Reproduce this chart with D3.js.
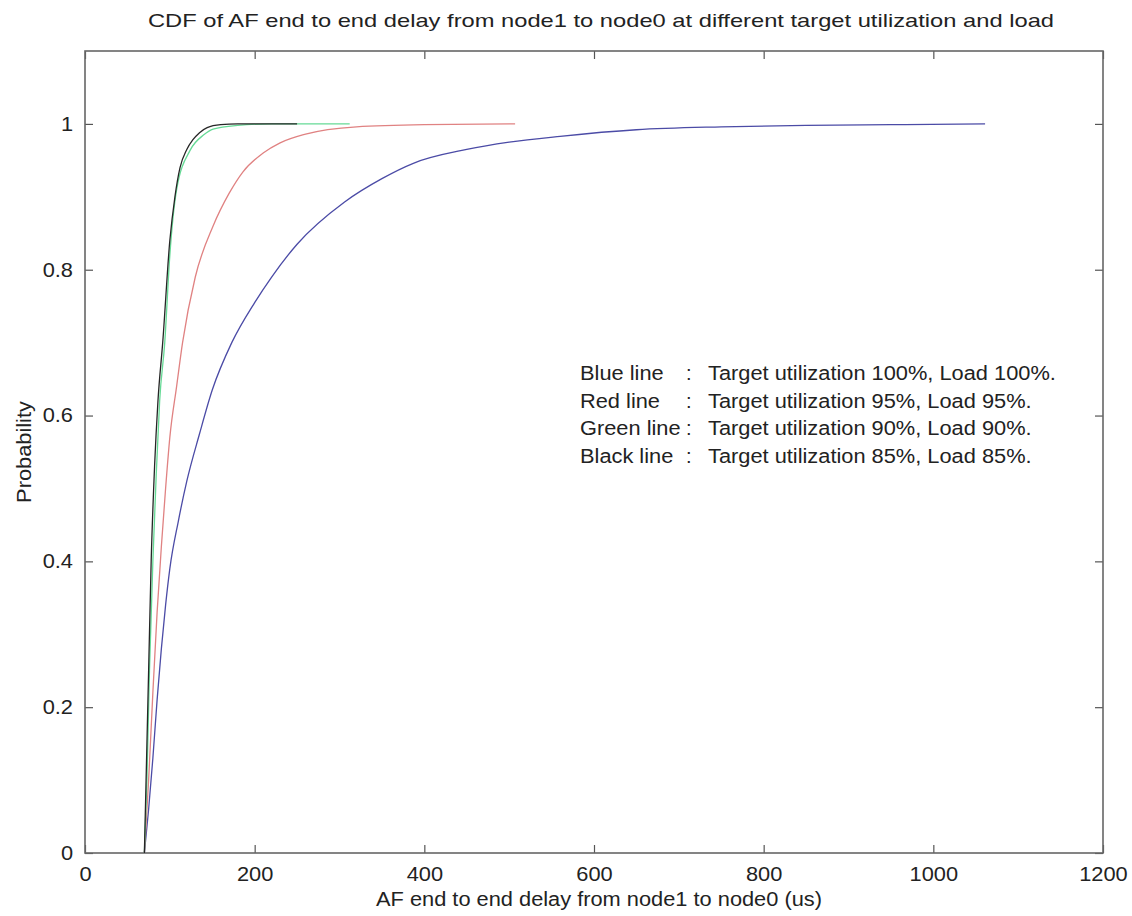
<!DOCTYPE html>
<html lang="en">
<head>
    <meta charset="UTF-8">
    <title>CDF of AF end to end delay</title>
    <script src="https://d3js.org/d3.v7.min.js"></script>
    <style>
        body { margin: 0; background: #fff; }
        text { font-family: "Liberation Sans", Arial, sans-serif; fill: #222; }
        .axis path { display: none; }
        .axis line { stroke: #555; stroke-width: 1.2; }
        .axis text { font-size: 20px; }
        .curve { fill: none; stroke-width: 1.3; }
    </style>
</head>
<body>
<svg class="chart"></svg>
<script>
    // delay values (us) and cumulative probabilities
    const blueX = [70, 75, 80, 85, 90, 95, 100, 110, 120, 135, 150, 173, 200, 220, 250, 306, 350, 387, 450, 500, 560, 650, 750, 850, 950, 1061];
    const blueY = [0, 0.06, 0.13, 0.21, 0.28, 0.34, 0.39, 0.455, 0.51, 0.575, 0.635, 0.70, 0.755, 0.79, 0.835, 0.893, 0.925, 0.946, 0.965, 0.975, 0.983, 0.992, 0.996, 0.998, 0.999, 1.0];

    const redX = [70, 75, 80, 85, 90, 95, 100, 108, 115, 130, 151, 170, 186, 210, 230, 260, 320, 400, 507];
    const redY = [0, 0.10, 0.22, 0.33, 0.42, 0.50, 0.57, 0.64, 0.70, 0.79, 0.86, 0.905, 0.934, 0.96, 0.974, 0.986, 0.996, 0.999, 1.0];

    const greenX = [70, 73, 76, 80, 84, 88, 94, 100, 108, 124, 140, 151, 180, 220, 312];
    const greenY = [0, 0.10, 0.25, 0.40, 0.52, 0.62, 0.70, 0.82, 0.91, 0.964, 0.985, 0.993, 0.998, 1.0, 1.0];

    const blackX = [70, 72, 75, 78, 82, 86, 91.6, 100, 106, 112, 120, 127, 135, 144, 160, 180, 250];
    const blackY = [0, 0.10, 0.25, 0.40, 0.53, 0.62, 0.70, 0.84, 0.90, 0.94, 0.965, 0.978, 0.988, 0.995, 0.999, 1.0, 1.0];

    const xTicks = [0, 200, 400, 600, 800, 1000, 1200];
    const yTicks = [0, 0.2, 0.4, 0.6, 0.8, 1];

    const legendNames = ["Blue line", "Red line", "Green line", "Black line"];
    const legendTexts = [
        "Target utilization 100%, Load 100%.",
        "Target utilization 95%, Load 95%.",
        "Target utilization 90%, Load 90%.",
        "Target utilization 85%, Load 85%."
    ];

    const width = 1132;
    const height = 916;
    const margin = { top: 51, right: 29, bottom: 63, left: 85 };
    const stretch = 1.09; // the source image is a bit wider than tall

    const svg = d3.select(".chart")
        .attr("width", width)
        .attr("height", height);

    const x = d3.scaleLinear()
        .domain([0, 1200])
        .range([margin.left, width - margin.right]);

    const y = d3.scaleLinear()
        .domain([0, 1.1])
        .range([height - margin.bottom, margin.top]);

    // axes with inward ticks on all four sides
    svg.append("g")
        .attr("class", "axis")
        .attr("transform", `translate(0,${y(0)})`)
        .call(d3.axisBottom(x).tickValues(xTicks).tickSizeInner(-8).tickSizeOuter(0).tickPadding(10).tickFormat(d3.format("d")))
        .selectAll("text").attr("dy", "0.9em");

    svg.append("g")
        .attr("class", "axis")
        .attr("transform", `translate(0,${y(1.1)})`)
        .call(d3.axisTop(x).tickValues(xTicks).tickSizeInner(-8).tickSizeOuter(0).tickFormat(""));

    svg.append("g")
        .attr("class", "axis")
        .attr("transform", `translate(${x(0)},0)`)
        .call(d3.axisLeft(y).tickValues(yTicks).tickSizeInner(-8).tickSizeOuter(0).tickPadding(12).tickFormat(d3.format("")));

    svg.append("g")
        .attr("class", "axis")
        .attr("transform", `translate(${x(1200)},0)`)
        .call(d3.axisRight(y).tickValues(yTicks).tickSizeInner(-8).tickSizeOuter(0).tickFormat(""));

    svg.append("rect")
        .attr("x", x(0))
        .attr("y", y(1.1))
        .attr("width", x(1200) - x(0))
        .attr("height", y(0) - y(1.1))
        .attr("fill", "none")
        .attr("stroke", "#666")
        .attr("stroke-width", 1.6);

    const line = d3.line()
        .x(d => x(d[0]))
        .y(d => y(d[1]))
        .curve(d3.curveMonotoneX);

    const series = [
        { xs: blueX, ys: blueY, color: "#4b4ba6" },
        { xs: redX, ys: redY, color: "#e08282" },
        { xs: greenX, ys: greenY, color: "#66da96" },
        { xs: blackX, ys: blackY, color: "#262626" }
    ];

    series.forEach(s => {
        svg.append("path")
            .datum(s.xs.map((v, i) => [v, s.ys[i]]))
            .attr("class", "curve")
            .attr("stroke", s.color)
            .attr("d", line);
    });

    // title and axis labels
    svg.append("text")
        .attr("x", 601)
        .attr("y", 27)
        .attr("text-anchor", "middle")
        .attr("font-size", 19)
        .attr("textLength", 906)
        .attr("lengthAdjust", "spacingAndGlyphs")
        .text("CDF of AF end to end delay from node1 to node0 at different target utilization and load");

    svg.append("text")
        .attr("class", "wide")
        .attr("x", 599)
        .attr("y", 906)
        .attr("text-anchor", "middle")
        .attr("font-size", 20)
        .text("AF end to end delay from node1 to node0 (us)");

    svg.append("text")
        .attr("class", "wide")
        .attr("transform", `translate(31,${(y(0) + y(1.1)) / 2}) rotate(-90)`)
        .attr("text-anchor", "middle")
        .attr("font-size", 20)
        .text("Probability");

    // legend text block
    const legend = svg.append("g");
    legendNames.forEach((name, i) => {
        const by = 380 + i * 27.7;
        legend.append("text")
            .attr("class", "wide")
            .attr("x", 580).attr("y", by)
            .attr("font-size", 20)
            .text(name);
        legend.append("text")
            .attr("x", 686).attr("y", by)
            .attr("font-size", 20)
            .text(":");
        legend.append("text")
            .attr("class", "wide")
            .attr("x", 708).attr("y", by)
            .attr("font-size", 20)
            .text(legendTexts[i]);
    });

    // widen texts a little, like the stretched original
    svg.selectAll(".wide, .axis text").each(function () {
        const w = this.getComputedTextLength();
        d3.select(this)
            .attr("textLength", w * stretch)
            .attr("lengthAdjust", "spacingAndGlyphs");
    });
</script>
</body>
</html>
